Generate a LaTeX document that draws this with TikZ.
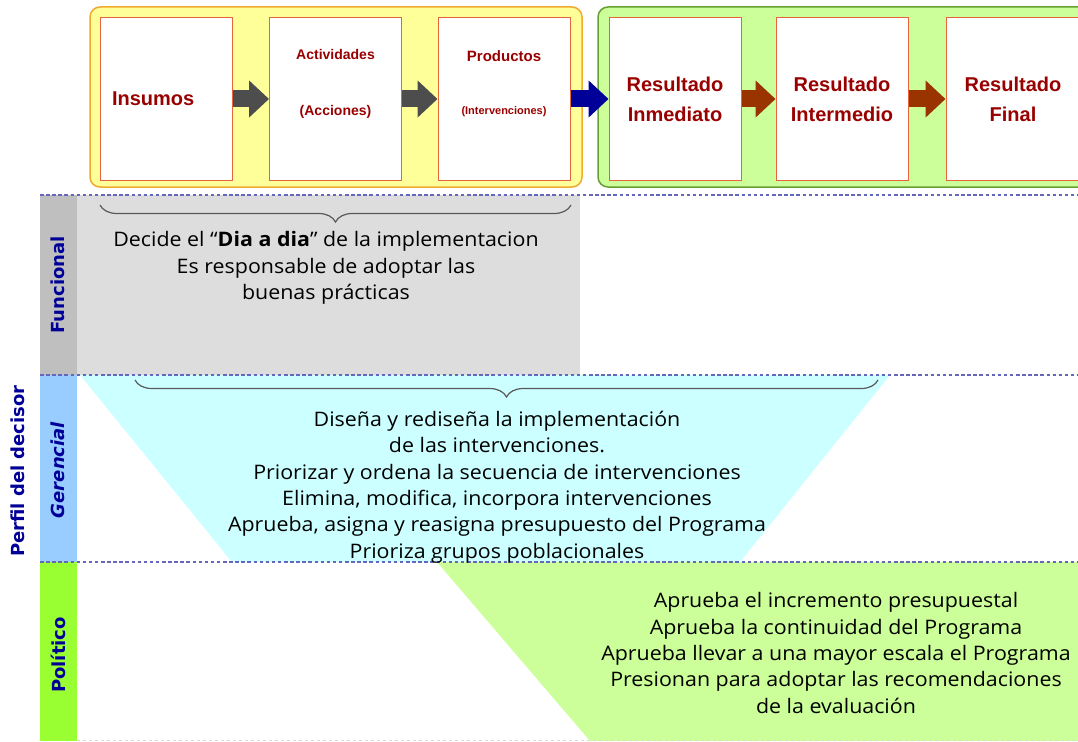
\documentclass[tikz,border=0pt]{standalone}
\usepackage{fontspec}
\setmainfont{Open Sans}
\newfontfamily\notefont[FakeStretch=1.07]{Open Sans}
\newfontfamily\boxfont{Liberation Sans}
\newfontfamily\lanefont{DejaVu Sans}
\usetikzlibrary{arrows.meta, decorations.pathreplacing}
\usepackage{xcolor}

\definecolor{boxred}{HTML}{990000}
\definecolor{stageline}{HTML}{E8643C}
\definecolor{chainyellow}{HTML}{FFFF99}
\definecolor{chainorange}{HTML}{F0AA30}
\definecolor{chaingreen}{HTML}{CCFF99}
\definecolor{chaingreenline}{HTML}{66A033}
\definecolor{arrowgray}{HTML}{4D4D4D}
\definecolor{arrowblue}{HTML}{000099}
\definecolor{arrowbrown}{HTML}{993300}
\definecolor{lanegray}{HTML}{DDDDDD}
\definecolor{stripgray}{HTML}{BFBFBF}
\definecolor{lanecyan}{HTML}{CCFFFF}
\definecolor{stripblue}{HTML}{99CCFF}
\definecolor{stripgreen}{HTML}{99FF33}
\definecolor{lanegreen}{HTML}{CCFF99}
\definecolor{labelblue}{HTML}{000099}
\definecolor{lanedashcol}{HTML}{6666BB}

\begin{document}
\begin{tikzpicture}[x=1pt, y=-1pt,
  stage/.style={draw=stageline, fill=white, line width=1pt, minimum width=132pt,
    minimum height=162pt, inner sep=0pt, text=boxred, align=center,
    font=\boxfont\bfseries\fontsize{20}{30}\selectfont},
  stagetext/.style={text=boxred, inner sep=0pt},
  flowarrow/.style={line width=17pt, -{Triangle[length=20pt, width=36pt]}},
  lanedash/.style={draw=lanedashcol, line width=1.6pt, dash pattern=on 3.5pt off 2.6pt},
  lanelabel/.style={rotate=90, text=labelblue, inner sep=0pt,
    font=\lanefont\bfseries\fontsize{18}{20}\selectfont},
  bracket/.style={draw=black!65, line width=1.2pt, decorate,
    decoration={brace, mirror, amplitude=17pt}},
  note/.style={align=center, inner sep=0pt, font=\notefont\fontsize{20}{26.4}\selectfont}]
\useasboundingbox (0,0) rectangle (1078,741);

% lanes
\fill[lanegray] (77,195) rectangle (580,375);
\fill[lanecyan] (80,375) -- (890,375) -- (740,562) -- (232,562) -- cycle;
\fill[lanegreen] (437,562) -- (1078,562) -- (1078,741) -- (590,741) -- cycle;
\fill[stripgray] (40,195) rectangle (77,375);
\fill[stripblue] (40,375) rectangle (77,562);
\fill[stripgreen] (40,562) rectangle (77,741);
\foreach \y in {195,375,562}
  \draw[lanedash] (40,\y) -- (1078,\y);
\draw[black!15, dashed] (77,740) -- (1078,740);

\node[lanelabel] (funcional) at (58,285) {Funcional};
\node[lanelabel, font=\lanefont\bfseries\itshape\fontsize{18}{20}\selectfont] (gerencial) at (58,470) {Gerencial};
\node[lanelabel] (politico) at (58,655) {Político};
\node[lanelabel] (perfil) at (18,471) {Perfil del decisor};

% chain of results
\draw[fill=chainyellow, draw=chainorange, line width=1.5pt, rounded corners=10pt] (90,7) rectangle (582,187);
\draw[fill=chaingreen, draw=chaingreenline, line width=1.5pt, rounded corners=10pt] (598,7) rectangle (1100,187);

\node[stage, text width=108pt, inner xsep=12pt, align=left] (insumos) at (166,99) {Insumos};
\node[stage] (actividades) at (335.5,99) {};
\node[stage] (productos) at (504,99) {};
\node[stage] (inmediato) at (675,99) {Resultado\\Inmediato};
\node[stage] (intermedio) at (842,99) {Resultado\\Intermedio};
\node[stage, minimum width=134pt] (final) at (1013,99) {Resultado\\Final};

\node[stagetext, font=\boxfont\bfseries\fontsize{14}{16}\selectfont] (actname) at (335.5,54) {Actividades};
\node[stagetext, font=\boxfont\bfseries\fontsize{14}{16}\selectfont] (actsub) at (335.5,112) {(Acciones)};
\node[stagetext, font=\boxfont\bfseries\fontsize{15}{17}\selectfont] (prodname) at (504,56) {Productos};
\node[stagetext, font=\boxfont\bfseries\fontsize{11}{13}\selectfont] (prodsub) at (504,112) {(Intervenciones)};

\draw[flowarrow, arrowgray] (insumos) -- (actividades);
\draw[flowarrow, arrowgray] (actividades) -- (productos);
\draw[flowarrow, arrowblue] (productos) -- (inmediato);
\draw[flowarrow, arrowbrown] (inmediato) -- (intermedio);
\draw[flowarrow, arrowbrown] (intermedio) -- (final);

% decisions by profile
\draw[bracket] (100,205) -- (571,205);
\draw[bracket] (135,380) -- (878,380);

\node[note] (funcnote) at (326,268) {Decide el “\textbf{Dia a dia}” de la implementacion\\
  Es responsable de adoptar las\\ buenas prácticas};
\node[note] (gernote) at (497,487) {Diseña y rediseña la implementación\\
  de las intervenciones.\\
  Priorizar y ordena la secuencia de intervenciones\\
  Elimina, modifica, incorpora intervenciones\\
  Aprueba, asigna y reasigna presupuesto del Programa\\
  Prioriza grupos poblacionales};
\node[note] (polnote) at (836,653) {Aprueba el incremento presupuestal\\
  Aprueba la continuidad del Programa\\
  Aprueba llevar a una mayor escala el Programa\\
  Presionan para adoptar las recomendaciones\\
  de la evaluación};
\end{tikzpicture}
\end{document}
